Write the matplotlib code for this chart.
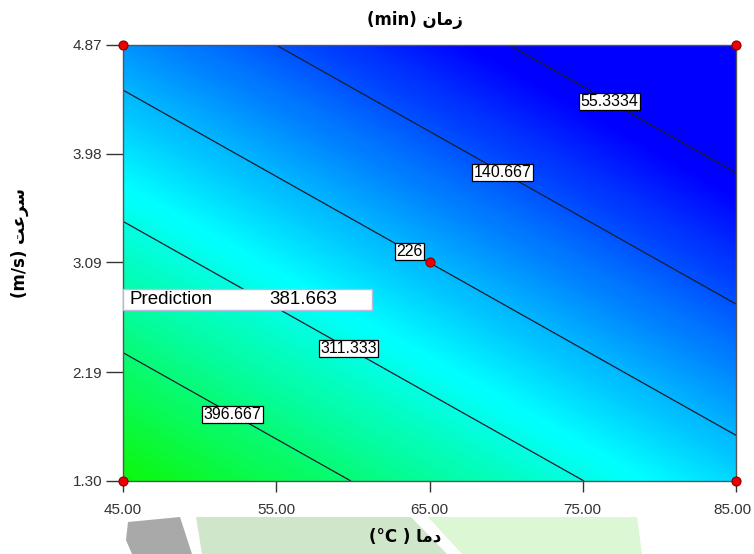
import numpy as np
import matplotlib
matplotlib.use("Agg")
import matplotlib.pyplot as plt
import matplotlib.transforms as mtransforms
from matplotlib.colors import LinearSegmentedColormap, Normalize
from matplotlib.patches import Polygon, Rectangle

# ---------------- data ----------------
temp_grid = [45.0, 65.0, 85.0]          # دما (°C)
speed_grid = [1.30, 3.09, 4.87]         # سرعت (m/s)
# response (زمان, min) at the grid nodes (rows = speed)
time_values = [
    [480.1, 367.9, 255.7],
    [338.0, 225.8, 113.6],
    [196.7, 84.5, -27.7],
]
contour_levels = [55.3334, 140.667, 226.0, 311.333, 396.667]
contour_label_text = ["55.3334", "140.667", "226", "311.333", "396.667"]
label_pos_temp = [76.9, 69.9, 63.9, 59.9, 52.4]
label_pos_speed = [4.44, 3.86, 3.22, 2.43, 1.90]
design_temp = [45.0, 85.0, 45.0, 85.0, 65.0]
design_speed = [1.30, 1.30, 4.87, 4.87, 3.09]
x_ticks = [45.0, 55.0, 65.0, 75.0, 85.0]
y_ticks = [1.30, 2.19, 3.09, 3.98, 4.87]
prediction_label = "Prediction"
prediction_value = "381.663"

# Persian labels (shaped presentation forms in visual order)
title_text = "(min) \uFEE5\uFE8E\uFEE3\uFEAF"           # زمان (min)
xlabel_text = "(\u00B0C ) \uFE8E\uFEE3\uFEA9"            # دما ( °C)
ylabel_text = "(m/s) \uFE96\uFECB\uFEAE\uFEB3"           # سرعت (m/s)

# ---------------- figure ----------------
W, H = 754, 554
fig = plt.figure(figsize=(W / 100, H / 100), dpi=100)
fig.patch.set_facecolor("white")

def fx(px):
    return px / W

def fy(py):
    return 1 - py / H

ax = fig.add_axes([fx(123), fy(481), fx(736) - fx(123), fy(45) - fy(481)])

# colour map: blue -> cyan -> green
vmin, vmax = -30.0, 500.0
def pos(v):
    return (v - vmin) / (vmax - vmin)
cmap = LinearSegmentedColormap.from_list(
    "de",
    [(0.0, (0, 0, 1)), (pos(70), (0, 0, 1)), (pos(290), (0, 1, 1)),
     (pos(490), (0.05, 0.97, 0.0)), (1.0, (0.15, 0.95, 0.0))],
)
norm = Normalize(vmin=vmin, vmax=vmax)

X, Y = np.meshgrid(temp_grid, speed_grid)
Z = np.array(time_values)
fill_levels = np.linspace(vmin, vmax, 266)
cf = ax.contourf(X, Y, Z, levels=fill_levels, cmap=cmap, norm=norm,
                 antialiased=False)

cs = ax.contour(X, Y, Z, levels=contour_levels, colors="#1c1c2c", linewidths=0.9)
fmt = {lev: txt for lev, txt in zip(cs.levels, contour_label_text)}
labels = ax.clabel(cs, cs.levels, fmt=fmt, inline=False, fontsize=11.5,
                   colors="black",
                   manual=list(zip(label_pos_temp, label_pos_speed)))
for t in labels:
    t.set_rotation(0)
    t.set_family("Liberation Sans")
    t.set_bbox(dict(boxstyle="square,pad=0.08", facecolor="white",
                    edgecolor="black", linewidth=0.9))

# prediction box
ax.add_patch(Rectangle((0.0, 0.392), 0.406, 0.048, transform=ax.transAxes,
                       facecolor="white", edgecolor="#b8b8e0", linewidth=1.0,
                       zorder=5))
ax.text(0.011, 0.416, prediction_label, transform=ax.transAxes, fontsize=13.5,
        family="Liberation Sans", va="center", ha="left", zorder=6)
ax.text(0.238, 0.416, prediction_value, transform=ax.transAxes, fontsize=13.5,
        family="Liberation Sans", va="center", ha="left", zorder=6)

# design points
ax.plot(design_temp, design_speed, linestyle="none", marker="o", markersize=6.5,
        markerfacecolor="#ee0000", markeredgecolor="#880000", markeredgewidth=0.8,
        clip_on=False, zorder=10)

ax.set_xlim(45, 85)
ax.set_ylim(1.30, 4.87)
ax.set_xticks(x_ticks)
ax.set_xticklabels([f"{v:.2f}" for v in x_ticks])
ax.set_yticks(y_ticks)
ax.set_yticklabels([f"{v:.2f}" for v in y_ticks])
for lab in ax.get_xticklabels() + ax.get_yticklabels():
    lab.set_family("Liberation Sans")
    lab.set_fontsize(11)
    lab.set_color("#333333")
ax.tick_params(axis="x", length=8, width=1, color="#333333", pad=8)
ax.tick_params(axis="y", length=12, width=1, color="#333333", pad=3)
# keep the last x tick label inside the picture
last = ax.get_xticklabels()[-1]
last.set_transform(last.get_transform() +
                   mtransforms.ScaledTranslation(-4 / 100, 0, fig.dpi_scale_trans))
for s in ax.spines.values():
    s.set_color("#555555")
    s.set_linewidth(1.0)

# watermark shapes at bottom
fig.patches.append(Polygon([(fx(128), fy(522)), (fx(180), fy(517)), (fx(192), fy(554)),
                            (fx(132), fy(554)), (fx(126), fy(540))],
                           closed=True, transform=fig.transFigure,
                           facecolor="#a9a9a9", edgecolor="none", zorder=0))
fig.patches.append(Polygon([(fx(196), fy(517)), (fx(411), fy(517)), (fx(447), fy(554)),
                            (fx(202), fy(554))],
                           closed=True, transform=fig.transFigure,
                           facecolor="#cfe6ca", edgecolor="none", zorder=0))
fig.patches.append(Polygon([(fx(428), fy(517)), (fx(637), fy(517)), (fx(642), fy(554)),
                            (fx(462), fy(554))],
                           closed=True, transform=fig.transFigure,
                           facecolor="#dcf7d3", edgecolor="none", zorder=0))

# titles
fig.text(fx(415), fy(20), title_text, ha="center", va="center", fontsize=12,
         fontweight="bold", family=["DejaVu Sans"])
fig.text(fx(405), fy(537), xlabel_text, ha="center", va="center", fontsize=12,
         fontweight="bold", family=["DejaVu Sans"])
fig.text(fx(20), fy(243), ylabel_text, ha="center", va="center", fontsize=12,
         fontweight="bold", rotation=90, family=["DejaVu Sans"])

fig.savefig("out.png", dpi=100)
